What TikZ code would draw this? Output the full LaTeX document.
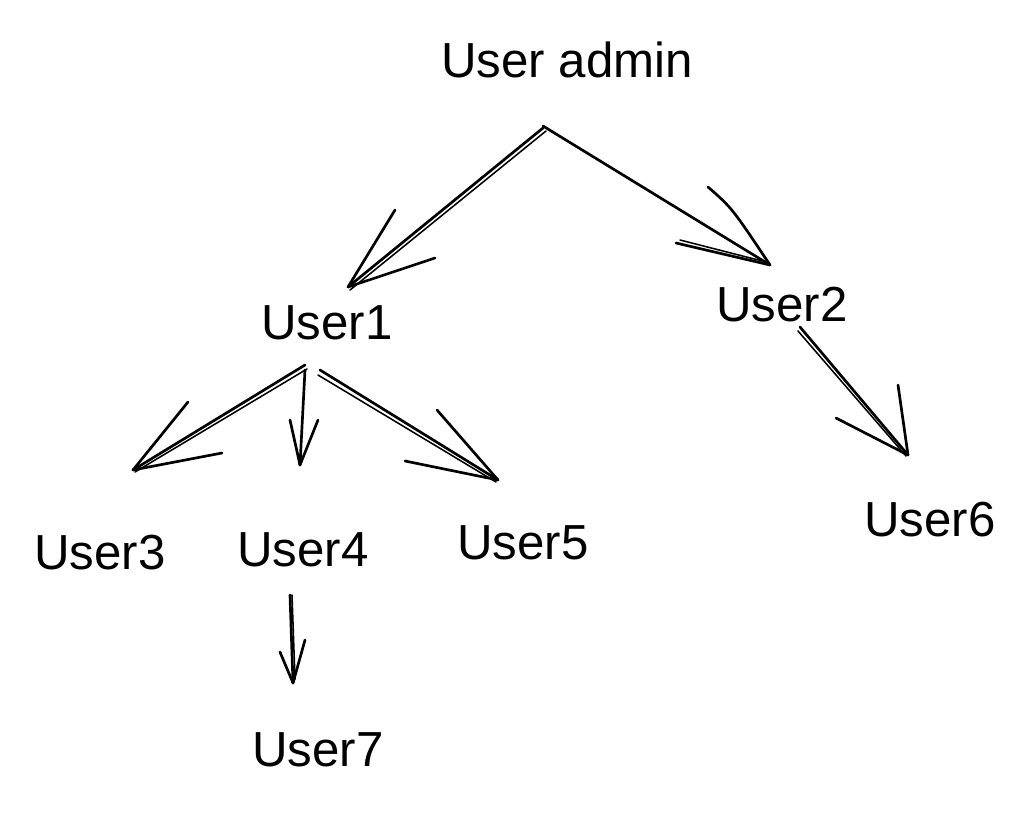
\documentclass[tikz,border=0pt]{standalone}
\usepackage{fontspec}
\setmainfont{Liberation Sans}
\begin{document}
\begin{tikzpicture}[x=0.025cm,y=-0.025cm,
  lbl/.style={inner sep=0pt, font=\fontsize{35}{40}\selectfont},
  sk/.style={line width=1.9pt, line cap=round, line join=round, black},
  sk2/.style={line width=1.1pt, line cap=round, black}]
\useasboundingbox[fill=white] (0,0) rectangle (1032,814);
% nodes
\node[lbl] (admin) at (567,60) {User admin};
\node[lbl] (u1) at (327,323) {User1};
\node[lbl] (u2) at (782,305) {User2};
\node[lbl] (u3) at (100,553) {User3};
\node[lbl] (u4) at (303,550) {User4};
\node[lbl] (u5) at (523,543) {User5};
\node[lbl] (u6) at (930,520) {User6};
\node[lbl] (u7) at (318,750) {User7};
% connector end points
\coordinate (s1) at (543,128); \coordinate (e1) at (348,287);
\coordinate (s2) at (543,126); \coordinate (e2) at (770,265);
\coordinate (s3) at (305,365); \coordinate (e3) at (133,470);
\coordinate (s4) at (305,370); \coordinate (e4) at (300,465);
\coordinate (s5) at (320,370); \coordinate (e5) at (498,480);
\coordinate (s6) at (800,327); \coordinate (e6) at (908,455);
\coordinate (s7) at (290,595); \coordinate (e7) at (293,683);
% admin -> User1
\draw[sk] (s1) -- (e1);
\draw[sk2] ([shift={(3,3)}]s1) -- ([shift={(2,3)}]e1);
\draw[sk] (395,210) -- (e1) -- (435,258);
% admin -> User2
\draw[sk] (s2) -- (e2);
\draw[sk] (708,187) .. controls (732,208) .. (e2) -- (676,243);
\draw[sk2] (680,240) -- (766,262);
% User1 -> User3
\draw[sk] (s3) -- (e3);
\draw[sk2] ([shift={(2,4)}]s3) -- ([shift={(2,2)}]e3);
\draw[sk] (188,402) -- (e3) -- (222,453);
% User1 -> User4
\draw[sk] (s4) -- (e4);
\draw[sk] (290,420) -- (e4) -- (318,420);
% User1 -> User5
\draw[sk] (s5) -- (e5);
\draw[sk2] ([shift={(-2,5)}]s5) -- ([shift={(-2,2)}]e5);
\draw[sk] (437,410) -- (e5) -- (405,461);
% User2 -> User6
\draw[sk] (s6) -- (e6);
\draw[sk2] ([shift={(-2,4)}]s6) -- ([shift={(-2,1)}]e6);
\draw[sk] (836,418) -- (e6) -- (898,385);
% User4 -> User7
\draw[sk] (s7) -- (e7);
\draw[sk2] ([shift={(2,0)}]s7) -- ([shift={(2,-4)}]e7);
\draw[sk] (280,652) -- (e7) -- (305,640);
\end{tikzpicture}
\end{document}
